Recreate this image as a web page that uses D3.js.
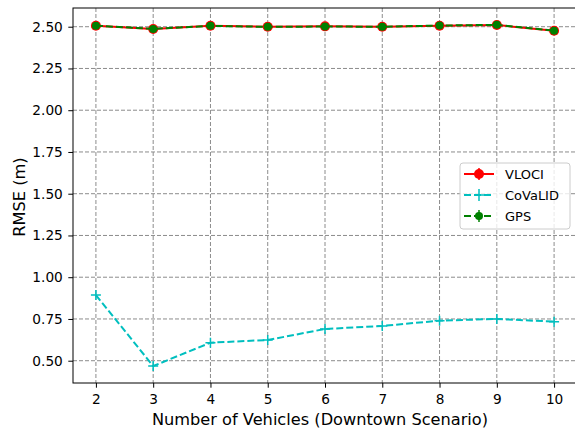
<!DOCTYPE html>
<html>
<head>
<meta charset="utf-8">
<script src="https://cdn.jsdelivr.net/npm/d3@7"></script>
<style>
  body { margin: 0; background: #fff; }
  svg { display: block; font-family: "DejaVu Sans", sans-serif; }
</style>
</head>
<body>
<svg width="575" height="435"></svg>
<script>
// data
const vehicles = [2, 3, 4, 5, 6, 7, 8, 9, 10];
const vloci = [2.506, 2.486, 2.506, 2.500, 2.502, 2.500, 2.506, 2.510, 2.476];
const gps = [2.506, 2.487, 2.505, 2.499, 2.501, 2.500, 2.507, 2.511, 2.476];
const covalid = [0.893, 0.468, 0.608, 0.624, 0.690, 0.708, 0.740, 0.750, 0.734];
const yTicks = [0.50, 0.75, 1.00, 1.25, 1.50, 1.75, 2.00, 2.25, 2.50];
const seriesNames = ["VLOCI", "CoVaLID", "GPS"];

const svg = d3.select("svg");
const margin = {top: 8, right: -2, bottom: 52, left: 73};
const width = 575 - margin.left - margin.right;
const height = 435 - margin.top - margin.bottom;

const x = d3.scaleLinear().domain([1.6, 10.4]).range([0, width]);
const y = d3.scaleLinear().domain([0.3665, 2.612]).range([height, 0]);

const g = svg.append("g").attr("transform", `translate(${margin.left},${margin.top})`);

// grid
g.append("g").selectAll("line").data(vehicles).join("line")
    .attr("x1", d => x(d)).attr("x2", d => x(d))
    .attr("y1", 0).attr("y2", height)
    .attr("stroke", "#8c8c8c").attr("stroke-width", 1).attr("stroke-dasharray", "4,2");
g.append("g").selectAll("line").data(yTicks).join("line")
    .attr("x1", 0).attr("x2", width)
    .attr("y1", d => y(d)).attr("y2", d => y(d))
    .attr("stroke", "#8c8c8c").attr("stroke-width", 1).attr("stroke-dasharray", "4,2");

// axes
const xAxis = g.append("g").attr("transform", `translate(0,${height})`)
    .call(d3.axisBottom(x).tickValues(vehicles).tickFormat(d3.format("d")).tickSizeOuter(0).tickSize(4.7).tickPadding(6.5));
const yAxis = g.append("g")
    .call(d3.axisLeft(y).tickValues(yTicks).tickFormat(d3.format(".2f")).tickSizeOuter(0).tickSize(4.7).tickPadding(5.5));
[xAxis, yAxis].forEach(a => {
  a.selectAll("text").attr("font-size", 13.7).attr("font-family", "DejaVu Sans").attr("fill", "#000");
  a.select(".domain").remove();
});

g.append("rect").attr("width", width).attr("height", height)
    .attr("fill", "none").attr("stroke", "#000").attr("stroke-width", 1);

// lines
const line = d3.line().x((d, i) => x(vehicles[i])).y(d => y(d));

g.append("path").datum(covalid).attr("d", line)
    .attr("fill", "none").attr("stroke", "#00bfbf").attr("stroke-width", 2).attr("stroke-dasharray", "7,3");
g.append("g").selectAll("path").data(covalid).join("path")
    .attr("d", (d, i) => `M${x(vehicles[i]) - 5},${y(d)}h10M${x(vehicles[i])},${y(d) - 5}v10`)
    .attr("stroke", "#00bfbf").attr("stroke-width", 1.5);

g.append("path").datum(vloci).attr("d", line)
    .attr("fill", "none").attr("stroke", "#ff0000").attr("stroke-width", 2);
g.append("g").selectAll("circle").data(vloci).join("circle")
    .attr("cx", (d, i) => x(vehicles[i])).attr("cy", d => y(d)).attr("r", 5)
    .attr("fill", "#ff0000");

g.append("path").datum(gps).attr("d", line)
    .attr("fill", "none").attr("stroke", "#008000").attr("stroke-width", 2).attr("stroke-dasharray", "7,3");
g.append("g").selectAll("circle").data(gps).join("circle")
    .attr("cx", (d, i) => x(vehicles[i])).attr("cy", d => y(d)).attr("r", 4)
    .attr("fill", "#008000");

// axis labels
svg.append("text")
    .attr("x", 320).attr("y", 424.5)
    .attr("text-anchor", "middle").attr("font-size", 16.2)
    .text("Number of Vehicles (Downtown Scenario)");
svg.append("text")
    .attr("transform", `translate(25,197) rotate(-90)`)
    .attr("text-anchor", "middle").attr("font-size", 16.2)
    .text("RMSE (m)");

// legend
const lg = svg.append("g").attr("transform", "translate(460,163)");
lg.append("rect").attr("width", 110).attr("height", 66).attr("rx", 3)
    .attr("fill", "#fff").attr("fill-opacity", 0.8).attr("stroke", "#cccccc");
const styles = [
  {c: "#ff0000", dash: null, mark: "circle"},
  {c: "#00bfbf", dash: "7,3", mark: "plus"},
  {c: "#008000", dash: "7,3", mark: "dot"}
];
seriesNames.forEach((name, i) => {
  const row = lg.append("g").attr("transform", `translate(0,${11 + i * 21})`);
  const s = styles[i];
  row.append("line").attr("x1", 4).attr("x2", 34).attr("stroke", s.c).attr("stroke-width", 2)
      .attr("stroke-dasharray", s.dash);
  row.append("line").attr("x1", 19).attr("x2", 19).attr("y1", -6).attr("y2", 6)
      .attr("stroke", s.c).attr("stroke-width", 1.5);
  if (s.mark === "circle") row.append("circle").attr("cx", 19).attr("r", 5).attr("fill", s.c);
  if (s.mark === "plus") row.append("line").attr("x1", 14).attr("x2", 24).attr("stroke", s.c).attr("stroke-width", 1.5);
  if (s.mark === "dot") row.append("circle").attr("cx", 19).attr("r", 4).attr("fill", s.c);
  row.append("text").attr("x", 45).attr("y", 4.5).attr("font-size", 13).text(name);
});
</script>
</body>
</html>
